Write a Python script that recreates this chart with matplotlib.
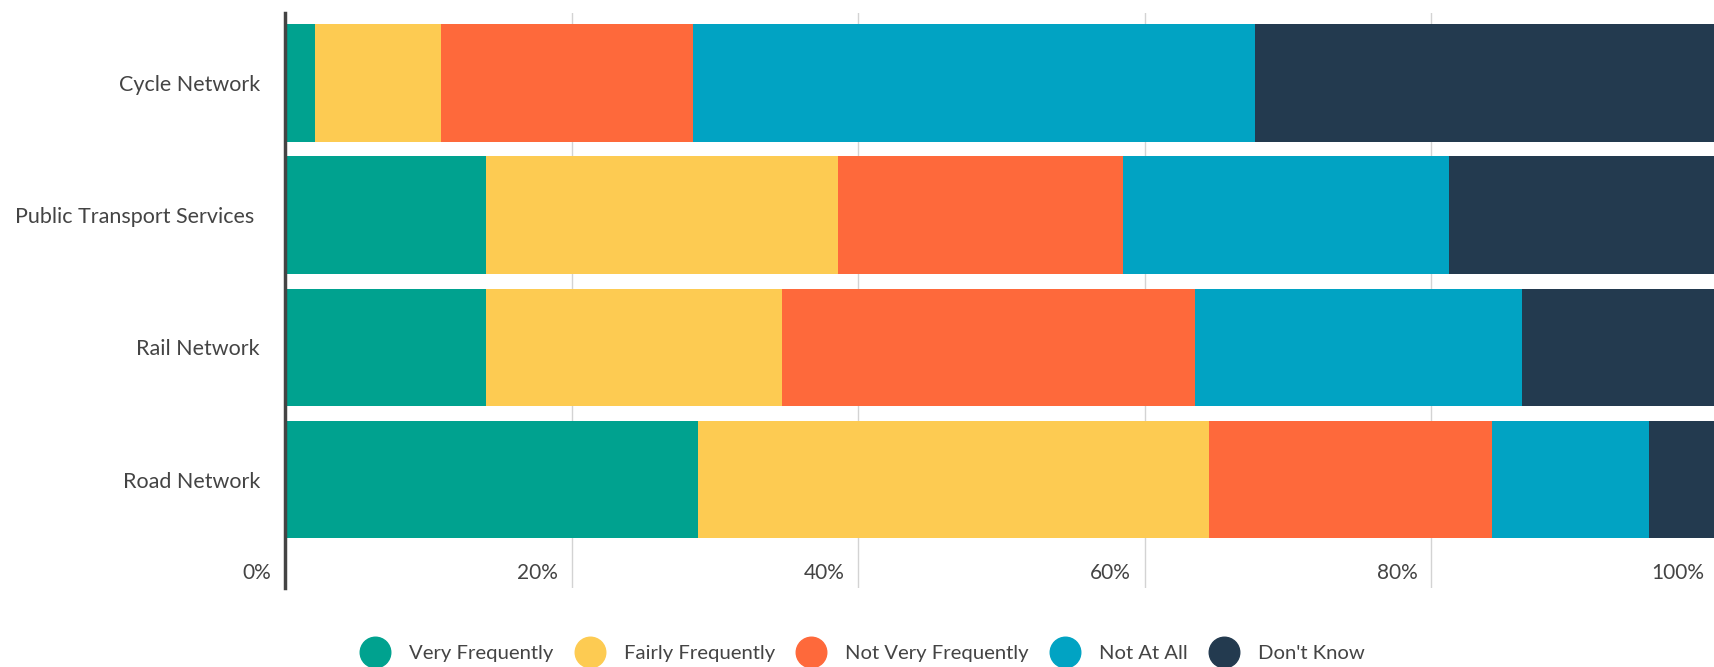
import matplotlib
matplotlib.use("Agg")
import matplotlib.pyplot as plt
from matplotlib.lines import Line2D
from matplotlib.transforms import ScaledTranslation
import numpy as np

# survey shares (%)
categories = ["Cycle Network", "Public Transport Services ", "Rail Network", "Road Network"]
series_names = ["Very Frequently", "Fairly Frequently", "Not Very Frequently", "Not At All", "Don't Know"]
very_frequently = [2.1, 14.0, 14.0, 28.8]
fairly_frequently = [8.8, 24.6, 20.7, 35.7]
not_very_frequently = [17.6, 19.9, 28.8, 19.7]
not_at_all = [39.2, 22.7, 22.8, 11.0]
dont_know = [32.3, 18.8, 13.7, 4.8]
x_ticks = [0, 20, 40, 60, 80, 100]
x_tick_labels = ["0%", "20%", "40%", "60%", "80%", "100%"]

colors = ["#00A28F", "#FDCB52", "#FE693B", "#01A3C3", "#233A4F"]
text_color = "#444444"

plt.rcParams['font.family'] = ['Lato', 'DejaVu Sans']

fig = plt.figure(figsize=(17.14, 6.67), dpi=100)
ax = fig.add_axes([285 / 1714, 1 - 588 / 667, 1433 / 1714, 575 / 667])

all_series = [very_frequently, fairly_frequently, not_very_frequently, not_at_all, dont_know]
y = np.arange(len(categories))
left = np.zeros(len(categories))
for vals, col in zip(all_series, colors):
    ax.barh(y, vals, left=left, height=0.89, color=col, zorder=2)
    left += np.array(vals)

ax.set_xlim(0, 100)
ax.set_ylim(3.82, -0.53)

ax.set_yticks(y)
ax.set_yticklabels(categories, fontsize=15.5, color=text_color)
ax.tick_params(axis='y', length=0, pad=18)

ax.set_xticks(x_ticks)
ax.set_xticklabels(x_tick_labels, fontsize=15, color=text_color)
ax.tick_params(axis='x', length=0, pad=-18)
offset = ScaledTranslation(-14 / 100, 0, fig.dpi_scale_trans)
for lab in ax.get_xticklabels():
    lab.set_horizontalalignment('right')
    lab.set_transform(lab.get_transform() + offset)

ax.grid(axis='x', color="#d3d3d3", linewidth=1, zorder=0)
ax.set_axisbelow(True)
for s in ["top", "right", "bottom"]:
    ax.spines[s].set_visible(False)
ax.spines["left"].set_color("#444444")
ax.spines["left"].set_linewidth(2.5)
ax.spines["left"].set_zorder(3)

handles = [Line2D([], [], marker='o', linestyle='none', markersize=22,
                  markerfacecolor=c, markeredgecolor=c) for c in colors]
fig.legend(handles, series_names, loc='center', bbox_to_anchor=(0.504, 0.02),
           ncol=5, frameon=False, fontsize=14.6, labelcolor=text_color,
           handlelength=1.2, handletextpad=1.08, columnspacing=1.18)

fig.savefig("out.png", dpi=100)
